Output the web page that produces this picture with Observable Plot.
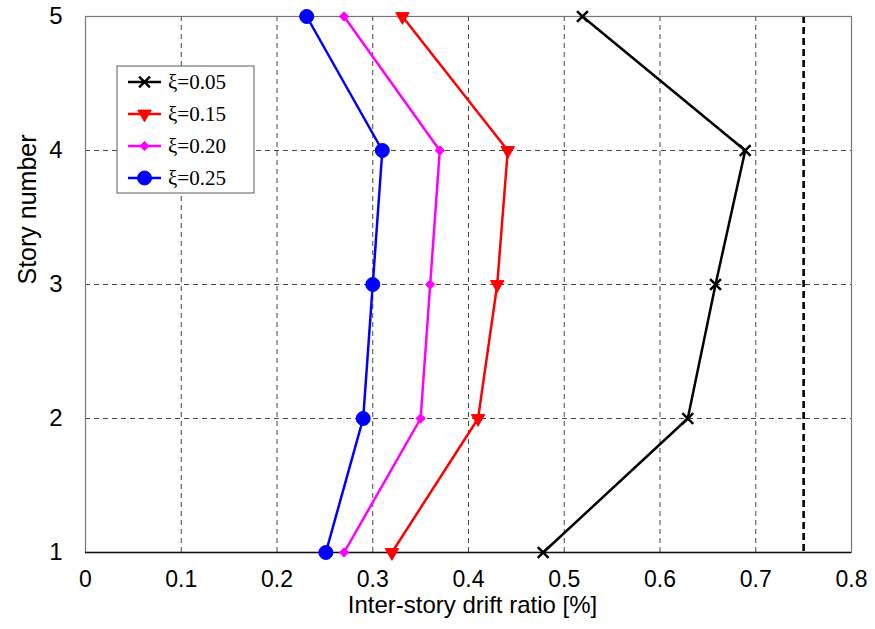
<!DOCTYPE html>
<html><head><meta charset="utf-8">
<script src="https://cdn.jsdelivr.net/npm/d3@7"></script>
<script src="https://cdn.jsdelivr.net/npm/@observablehq/plot@0.6"></script>
<style>body{margin:0;background:#fff}</style>
</head><body><div id="chart"></div>
<script>
const stories = [1, 2, 3, 4, 5];
const drift005 = [0.478, 0.629, 0.658, 0.689, 0.519];
const drift015 = [0.320, 0.410, 0.430, 0.441, 0.331];
const drift020 = [0.270, 0.350, 0.360, 0.370, 0.270];
const drift025 = [0.251, 0.290, 0.300, 0.310, 0.231];
const seriesNames = ["ξ=0.05", "ξ=0.15", "ξ=0.20", "ξ=0.25"];
const seriesColors = ["#000000", "#ff0000", "#ff00ff", "#0000ff"];
const limitDrift = [0.75];
const xTicks = [0, 0.1, 0.2, 0.3, 0.4, 0.5, 0.6, 0.7, 0.8];
const yTicks = [1, 2, 3, 4, 5];
const xGrid = [0.1, 0.2, 0.3, 0.4, 0.5, 0.6, 0.7];
const yGrid = [2, 3, 4];
const xLabel = "Inter-story drift ratio [%]";
const yLabel = "Story number";

const allDrifts = [drift005, drift015, drift020, drift025];
const rows = allDrifts.map((arr, k) => stories.map((s, i) => ({story: s, drift: arr[i], series: seriesNames[k]})));

const symbols = [
  {symbol: "times", r: 5, fill: "none", stroke: seriesColors[0], strokeWidth: 2.5, rotate: 0},
  {symbol: "triangle", r: 5, fill: seriesColors[1], stroke: seriesColors[1], strokeWidth: 1, rotate: 180},
  {symbol: "diamond2", r: 4.2, fill: seriesColors[2], stroke: seriesColors[2], strokeWidth: 1, rotate: 0},
  {symbol: "circle", r: 7, fill: seriesColors[3], stroke: seriesColors[3], strokeWidth: 1, rotate: 0}
];

const marks = [
  Plot.ruleX(xGrid, {stroke: "#444", strokeWidth: 1, strokeDasharray: "5,4"}),
  Plot.ruleY(yGrid, {stroke: "#444", strokeWidth: 1, strokeDasharray: "5,4"}),
  Plot.ruleX(limitDrift, {stroke: "#000", strokeWidth: 2.6, strokeDasharray: "7,4"}),
  Plot.frame({stroke: "#777", strokeWidth: 1.2}),
  Plot.ruleY([1], {stroke: "#111", strokeWidth: 1.3}),
  Plot.axisX({ticks: xTicks, tickSize: 0, tickPadding: 18, fontSize: 23, label: null, tickFormat: d => String(d)}),
  Plot.axisY({ticks: yTicks, tickSize: 0, tickPadding: 23, fontSize: 24, label: null, tickFormat: d => String(d)}),
  Plot.text([xLabel], {frameAnchor: "bottom", dx: 4, dy: 60, fontSize: 24, fill: "#000"}),
  Plot.text([yLabel], {frameAnchor: "left", dx: -58, rotate: -90, fontSize: 25, fill: "#000"})
];
rows.forEach((data, k) => {
  marks.push(Plot.line(data, {x: "drift", y: "story", stroke: seriesColors[k], strokeWidth: 2.5}));
});
rows.forEach((data, k) => {
  const s = symbols[k];
  marks.push(Plot.dot(data, {x: "drift", y: "story", symbol: () => s.symbol, r: s.r, fill: s.fill, stroke: s.stroke, strokeWidth: s.strokeWidth, rotate: s.rotate}));
});

const chart = Plot.plot({
  width: 875,
  height: 629,
  marginLeft: 85,
  marginRight: 24,
  marginTop: 16,
  marginBottom: 77,
  style: {fontFamily: "Liberation Sans, Arial, sans-serif", color: "#000", background: "#fff"},
  x: {domain: [0, 0.8]},
  y: {domain: [1, 5]},
  symbol: {type: "identity"},
  marks
});
document.getElementById("chart").appendChild(chart);

// Legend inside plot area
const svg = d3.select(chart);
const lg = svg.append("g").attr("font-family", "Liberation Serif, Times New Roman, serif");
lg.append("rect").attr("x", 117).attr("y", 66).attr("width", 137).attr("height", 127)
  .attr("fill", "#fff").attr("stroke", "#777").attr("stroke-width", 1.2);
const symMap = {times: d3.symbolTimes, triangle: d3.symbolTriangle, diamond2: d3.symbolDiamond2, circle: d3.symbolCircle};
seriesNames.forEach((name, k) => {
  const y = 82 + k * 32;
  const s = symbols[k];
  lg.append("line").attr("x1", 128).attr("x2", 161).attr("y1", y).attr("y2", y)
    .attr("stroke", seriesColors[k]).attr("stroke-width", 2.5);
  lg.append("path").attr("d", d3.symbol(symMap[s.symbol], Math.PI * s.r * s.r)())
    .attr("transform", `translate(144.5,${y}) rotate(${s.rotate})`)
    .attr("fill", s.fill).attr("stroke", s.stroke).attr("stroke-width", s.strokeWidth);
  lg.append("text").attr("x", 168).attr("y", y).attr("dy", "0.35em").attr("font-size", 21)
    .attr("text-anchor", "start").attr("fill", "#000").text(name);
});
</script>
</body></html>
